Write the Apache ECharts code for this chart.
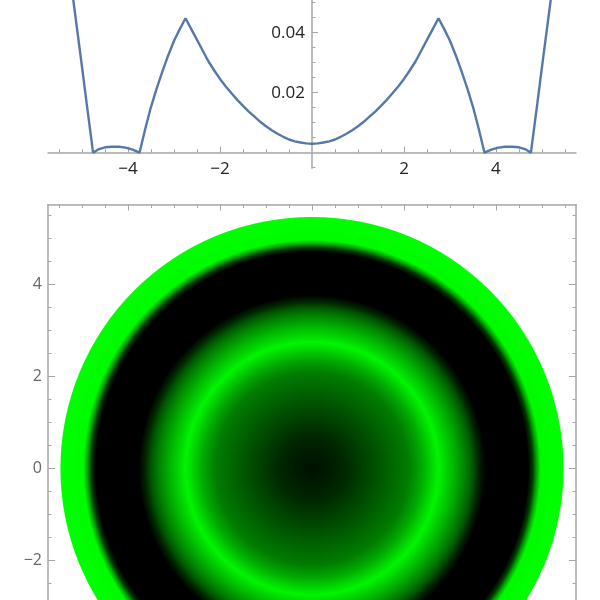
<!DOCTYPE html>
<html>
<head>
<meta charset="utf-8">
<style>
  html, body { margin: 0; padding: 0; background: #fff; }
  #chart { width: 600px; height: 600px; }
</style>
<script src="https://cdn.jsdelivr.net/npm/echarts@6/dist/echarts.min.js"></script>
</head>
<body>
<div id="chart"></div>
<script>
// top curve
const curveX = [-5.47, -5.19, -5.0, -4.9, -4.76, -4.65, -4.5, -4.35, -4.2, -4.05, -3.9, -3.75, -3.625, -3.5, -3.375, -3.25, -3.125, -3.0, -2.875, -2.75,
  -2.625, -2.5, -2.375, -2.25, -2.125, -2.0, -1.875, -1.75, -1.625, -1.5, -1.375, -1.25, -1.125, -1.0, -0.875, -0.75, -0.625, -0.5, -0.375, -0.25, -0.125, 0,
  0.125, 0.25, 0.375, 0.5, 0.625, 0.75, 0.875, 1.0, 1.125, 1.25, 1.375, 1.5, 1.625, 1.75, 1.875, 2.0, 2.125, 2.25, 2.375, 2.5, 2.625, 2.75,
  2.875, 3.0, 3.125, 3.25, 3.375, 3.5, 3.625, 3.75, 3.9, 4.05, 4.2, 4.35, 4.5, 4.65, 4.76, 4.9, 5.0, 5.19, 5.47]
const curveY = [0.083, 0.0509, 0.0285, 0.0165, 0, 0.0011, 0.0018, 0.002, 0.002, 0.0017, 0.001, 0, 0.008, 0.0153, 0.0215, 0.0272, 0.0325, 0.0373, 0.0412, 0.0448,
  0.0412, 0.0376, 0.034, 0.0304, 0.0274, 0.0246, 0.0221, 0.0198, 0.0176, 0.0156, 0.0137, 0.012, 0.0103, 0.0088, 0.0075, 0.0063, 0.0053, 0.0044, 0.0038, 0.0034, 0.0031, 0.003,
  0.0031, 0.0034, 0.0038, 0.0044, 0.0053, 0.0063, 0.0075, 0.0088, 0.0103, 0.012, 0.0137, 0.0156, 0.0176, 0.0198, 0.0221, 0.0246, 0.0274, 0.0304, 0.034, 0.0376, 0.0412, 0.0448,
  0.0412, 0.0373, 0.0325, 0.0272, 0.0215, 0.0153, 0.008, 0, 0.001, 0.0017, 0.002, 0.002, 0.0018, 0.0011, 0, 0.0165, 0.0285, 0.0509, 0.083]

// tick positions
const topXMajor = [-4, -2, 2, 4]
const topXMinor = [-5.5, -5, -4.5, -3.5, -3, -2.5, -1.5, -1, -0.5, 0.5, 1, 1.5, 2.5, 3, 3.5, 4.5, 5, 5.5]
const topYMajor = [0.02, 0.04]
const topYMinor = [-0.005, 0.005, 0.01, 0.015, 0.025, 0.03, 0.035, 0.045, 0.05]
const frameMajor = [-4, -2, 0, 2, 4]
const frameMinor = [-5.5, -5, -4.5, -3.5, -3, -2.5, -1.5, -1, -0.5, 0.5, 1, 1.5, 2.5, 3, 3.5, 4.5, 5, 5.5]

// radial profile of the density plot: radius and green level
const diskRadii = [0, 0.72, 1.45, 2.1, 2.39, 2.6, 2.75, 2.9, 3.04, 3.33, 3.5, 3.62, 3.77, 4.7, 4.8, 4.88, 4.97, 5.47]
const diskGreen = [15, 40, 85, 125, 170, 215, 245, 215, 190, 130, 85, 40, 0, 0, 60, 160, 250, 255]

const axisGrey = '#a6a6a6'
const minus = v => String(v).replace('-', '\u2212')

const diskData = diskRadii.map((r, i) => [
  r, diskGreen[i],
  i > 0 ? diskRadii[i - 1] : 0,
  i > 0 ? diskGreen[i - 1] : diskGreen[0],
]).reverse()

function renderRing (params, api) {
  const c = api.coord([0, 0])
  const r = api.size([api.value(0), 0])[0]
  const inner = api.size([api.value(2), 0])[0]
  if (r <= 0) return null
  const fill = new echarts.graphic.RadialGradient(c[0], c[1], r, [
    { offset: inner / r, color: `rgb(0,${api.value(3)},0)` },
    { offset: 1, color: `rgb(0,${api.value(1)},0)` },
  ], true)
  return { type: 'circle', shape: { cx: c[0], cy: c[1], r }, style: { fill } }
}

// one axis of ticks only, so major and minor lengths can differ
function tickAxis (extra, values, length) {
  return Object.assign({
    type: 'value',
    splitLine: { show: false },
    axisLine: { show: false },
    axisLabel: { show: false },
    axisTick: { show: true, inside: true, length, customValues: values, lineStyle: { color: axisGrey, width: 1 } },
  }, extra)
}

const topXRange = { gridIndex: 0, min: -5.74, max: 5.74 }
const topYRange = { gridIndex: 0, min: -0.0052, max: 0.0509 }
const boxX = { gridIndex: 1, min: -5.74, max: 5.74 }
const boxY = { gridIndex: 1, min: -5.73, max: 5.73 }

const option = {
  animation: false,
  backgroundColor: '#fff',
  grid: [
    { left: 48, top: 0, width: 528, height: 168.3, outerBoundsMode: 'none' },
    { left: 48, top: 204.5, width: 528, height: 528, outerBoundsMode: 'none' },
  ],
  xAxis: [
    // 上图
    tickAxis(Object.assign({
      position: 'bottom',
      axisLine: { show: true, onZero: true, lineStyle: { color: axisGrey, width: 1.5 } },
      axisLabel: {
        show: true, margin: -8, customValues: topXMajor, formatter: minus,
        color: '#222', fontSize: 17, fontFamily: 'Open Sans',
      },
    }, topXRange), topXMajor, 6),
    tickAxis(Object.assign({ position: 'bottom', axisLine: { show: false, onZero: true } }, topXRange), topXMinor, 3.5),
    // 下图 frame
    tickAxis(Object.assign({
      position: 'top',
      axisLine: { show: true, onZero: false, lineStyle: { color: axisGrey, width: 1.5 } },
    }, boxX), frameMajor, 6),
    tickAxis(Object.assign({ position: 'top', axisLine: { show: false, onZero: false } }, boxX), frameMinor, 3.5),
    tickAxis(Object.assign({
      position: 'bottom',
      axisLine: { show: true, onZero: false, lineStyle: { color: axisGrey, width: 1.5 } },
    }, boxX), frameMajor, 6),
  ],
  yAxis: [
    tickAxis(Object.assign({
      position: 'left',
      axisLine: { show: true, onZero: true, lineStyle: { color: axisGrey, width: 1.5 } },
      axisLabel: {
        show: true, margin: -257, customValues: topYMajor, formatter: v => v.toFixed(2),
        color: '#222', fontSize: 17, fontFamily: 'Open Sans',
      },
    }, topYRange), topYMajor, 6),
    tickAxis(Object.assign({ position: 'left', axisLine: { show: false, onZero: true } }, topYRange), topYMinor, 3.5),
    tickAxis(Object.assign({
      position: 'left',
      axisLine: { show: true, onZero: false, lineStyle: { color: axisGrey, width: 1.5 } },
      axisLabel: {
        show: true, margin: 6, customValues: frameMajor, formatter: minus,
        color: '#666', fontSize: 16, fontFamily: 'Open Sans',
      },
    }, boxY), frameMajor, 7),
    tickAxis(Object.assign({ position: 'left', axisLine: { show: false, onZero: false } }, boxY), frameMinor, 3.5),
    tickAxis(Object.assign({
      position: 'right',
      axisLine: { show: true, onZero: false, lineStyle: { color: axisGrey, width: 1.5 } },
    }, boxY), frameMajor, 7),
    tickAxis(Object.assign({ position: 'right', axisLine: { show: false, onZero: false } }, boxY), frameMinor, 3.5),
  ],
  series: [
    {
      type: 'line',
      xAxisIndex: 0,
      yAxisIndex: 0,
      data: curveX.map((x, i) => [x, curveY[i]]),
      symbol: 'none',
      clip: true,
      lineStyle: { color: '#5678a8', width: 2.4 },
    },
    {
      type: 'custom',
      xAxisIndex: 2,
      yAxisIndex: 2,
      data: diskData,
      encode: { x: 0 },
      renderItem: renderRing,
      clip: true,
      silent: true,
    },
  ],
}

const chart = echarts.init(document.getElementById('chart'))
chart.setOption(option)
</script>
</body>
</html>
